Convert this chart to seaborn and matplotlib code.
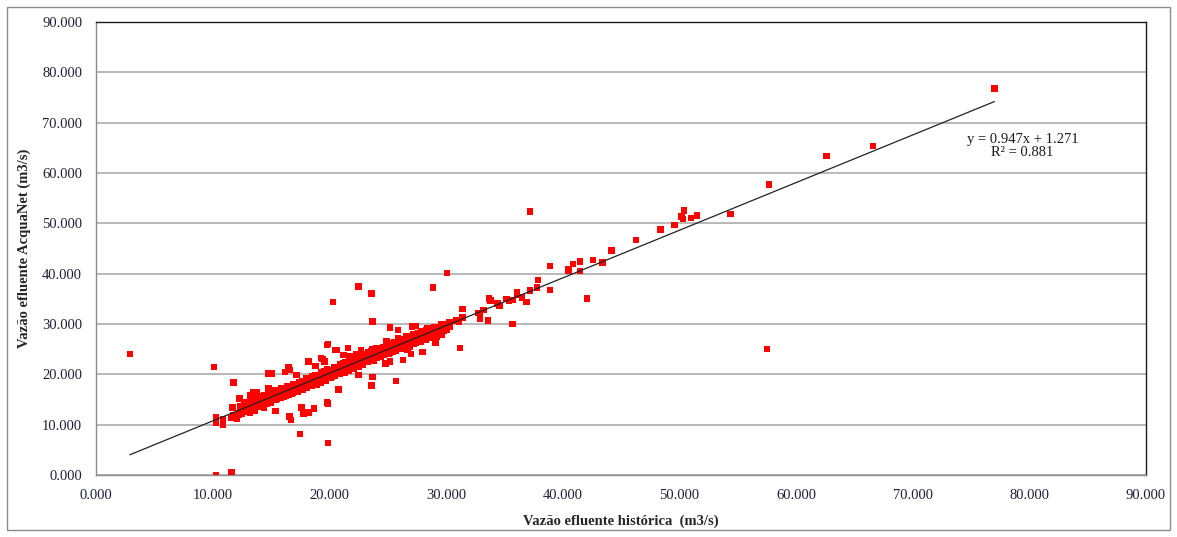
import numpy as np
import pandas as pd
import seaborn as sns
import matplotlib.pyplot as plt
from matplotlib.patches import Rectangle
from matplotlib.ticker import FuncFormatter, MultipleLocator

# historical outflow (x) vs AcquaNet outflow (y), m3/s
hist_outliers = [2.9, 10.1, 10.3, 11.6, 19.9, 17.5, 16.6, 16.7, 11.8, 12.3, 15.4, 17.6, 17.8,
                 18.2, 18.7, 19.8, 19.9, 20.3, 22.5, 23.6, 28.9, 23.7, 30.1, 37.2, 31.2, 35.7,
                 42.1, 57.5, 20.8, 22.5, 23.7, 23.6, 25.7, 13.3, 13.0, 14.8, 15.1, 14.8, 16.2,
                 16.5, 16.6, 17.2, 18.2, 18.8, 19.3, 19.4, 19.6, 19.8, 20.5, 20.6, 21.2, 21.6,
                 21.8, 22.3, 22.7, 23.7, 24.0, 23.8, 24.8, 25.2, 26.3, 27.0, 28.0, 13.5, 13.8,
                 12.9, 13.2, 12.8, 11.7, 14.9, 21.6, 19.9]
acqua_outliers = [24.0, 21.5, 0.0, 0.5, 6.4, 8.1, 11.6, 10.9, 18.4, 15.2, 12.7, 13.4, 12.1,
                  12.4, 13.2, 14.4, 14.2, 34.4, 37.4, 36.1, 37.2, 30.5, 40.1, 52.3, 25.2, 30.0,
                  35.1, 25.0, 17.0, 19.9, 19.5, 17.8, 18.7, 14.8, 12.8, 20.2, 20.2, 17.2, 20.5,
                  21.5, 20.9, 19.9, 22.5, 21.7, 23.2, 23.0, 22.5, 25.8, 24.8, 24.8, 23.8, 25.2,
                  23.6, 24.0, 24.8, 25.0, 25.2, 22.7, 22.1, 22.5, 22.8, 24.0, 24.4, 16.4, 16.4,
                  14.4, 15.9, 12.9, 13.4, 16.9, 25.2, 26.0]

hist_low = [10.3, 10.3, 10.9, 10.9, 11.6, 11.8, 12.0, 12.1]
acqua_low = [11.5, 10.4, 11.1, 10.0, 11.3, 11.9, 11.5, 11.1]

# dense band hugging the trendline
hist_band = [12.2, 12.4, 12.5, 12.7, 12.8, 13.0, 13.1, 13.2, 13.4, 13.5, 13.6, 13.8, 13.9,
             14.0, 14.1, 14.3, 14.4, 14.5, 14.6, 14.8, 14.9, 15.0, 15.1, 15.3, 15.4, 15.5,
             15.6, 15.8, 15.9, 16.0, 16.1, 16.3, 16.4, 16.5, 16.7, 16.8, 16.9, 17.0, 17.2,
             17.3, 17.4, 17.6, 17.7, 17.8, 18.0, 18.1, 18.2, 18.4, 18.5, 18.6, 18.8, 18.9,
             19.0, 19.2, 19.3, 19.4, 19.6, 19.7, 19.8, 20.0, 20.1, 20.2, 20.4, 20.5, 20.6,
             20.8, 20.9, 21.0, 21.2, 21.3, 21.4, 21.6, 21.7, 21.8, 22.0, 22.1, 22.2, 22.4,
             22.5, 22.6, 22.8, 22.9, 23.0, 23.2, 23.3, 23.4, 23.6, 23.8, 24.0, 24.1, 24.2,
             24.4, 24.6, 24.7, 24.9, 25.1, 25.2, 25.4, 25.6, 25.7, 25.9, 26.1, 26.2, 26.4,
             26.6, 26.7, 26.9, 27.1, 27.2, 27.4, 27.6, 27.8, 27.9, 28.1, 28.3, 28.4, 28.6,
             28.8, 29.0, 29.3, 29.6, 29.8, 30.3]
acqua_band = [12.3, 13.0, 12.1, 12.9, 13.4, 12.6, 13.3, 12.4, 13.0, 13.8, 12.8, 13.5, 14.2,
              13.6, 14.6, 14.0, 13.4, 14.9, 14.2, 14.6, 15.3, 14.4, 15.0, 15.6, 14.9, 15.3,
              16.0, 15.4, 15.9, 16.5, 15.6, 16.2, 16.8, 15.9, 16.5, 17.1, 16.3, 16.9, 17.4,
              16.6, 17.2, 17.8, 17.0, 17.5, 18.1, 17.3, 17.9, 18.5, 17.7, 18.2, 18.9, 18.0,
              18.6, 19.3, 18.4, 19.0, 19.6, 18.8, 19.4, 20.1, 19.3, 19.8, 20.5, 19.7, 20.2,
              20.9, 20.1, 20.6, 21.3, 20.4, 21.0, 21.6, 20.8, 21.4, 22.0, 21.2, 21.8, 22.5,
              21.6, 22.2, 22.9, 22.0, 22.6, 23.2, 22.4, 23.0, 23.7, 23.1, 23.9, 24.5, 23.4,
              24.2, 24.8, 23.8, 24.5, 25.1, 24.3, 24.9, 25.5, 24.8, 25.3, 25.9, 25.1, 25.7,
              26.3, 25.6, 26.1, 26.8, 26.0, 26.6, 27.2, 26.5, 27.0, 27.6, 26.9, 27.4, 28.0,
              27.3, 27.9, 28.4, 27.8, 29.1, 29.5]
# wider scatter around the same band
acqua_band_wide = [12.0, 13.6, 12.2, 14.1, 12.6, 13.9, 12.5, 14.6, 13.1, 15.2, 13.3, 14.9, 13.6,
                   15.6, 13.9, 14.2, 15.8, 14.1, 15.4, 14.5, 16.3, 14.8, 15.9, 14.9, 16.8, 15.2,
                   16.5, 15.3, 17.2, 15.6, 16.9, 15.8, 17.6, 16.1, 17.5, 16.2, 18.1, 16.6, 17.9,
                   16.8, 18.5, 17.1, 18.6, 17.4, 19.2, 17.5, 18.9, 17.8, 19.6, 18.1, 19.8, 18.3,
                   19.9, 18.6, 20.4, 18.9, 20.6, 19.1, 21.0, 19.4, 20.9, 19.6, 21.5, 19.9, 21.2,
                   20.1, 21.9, 20.3, 22.1, 20.6, 22.4, 20.9, 22.6, 21.1, 22.9, 21.3, 23.1, 21.6,
                   23.4, 21.9, 23.8, 22.1, 23.9, 22.4, 24.3, 22.7, 24.5, 22.9, 24.9, 23.3, 25.1,
                   23.5, 25.4, 23.8, 25.8, 24.1, 26.0, 24.5, 26.4, 24.7, 26.7, 25.0, 26.9, 25.4,
                   27.3, 25.6, 27.6, 26.0, 27.9, 26.3, 28.2, 26.7, 28.5, 27.0, 28.8, 27.3, 29.1,
                   27.7, 29.4, 28.2, 29.9, 28.7, 30.4]

hist_upper = [20.6, 21.2, 21.6, 22.7, 24.9, 25.1, 25.5, 25.8, 25.9, 26.1, 26.6, 26.7, 26.9,
              27.2, 27.6, 28.1, 28.5, 28.8, 27.8, 28.2, 28.6, 29.2, 29.2, 29.1, 25.2, 25.9,
              27.1, 27.4, 28.4, 28.6, 29.5, 29.6, 30.0, 30.1, 29.5, 30.9, 31.1, 31.4, 31.4,
              32.8, 32.9, 32.9, 33.2, 33.6, 33.7, 33.8, 34.4, 34.6, 35.2, 35.4, 35.7, 36.1,
              36.1, 36.5, 36.9, 37.2, 37.8, 37.9, 38.9, 38.9, 40.5, 40.5, 40.9, 41.5, 41.5,
              42.6, 43.4, 44.2, 46.3, 48.4, 49.6, 50.2, 50.3, 50.4, 51.0, 51.5, 54.4, 57.7,
              62.6, 66.6, 77.0]
acqua_upper = [24.8, 23.8, 25.2, 24.8, 26.5, 26.2, 25.8, 25.5, 27.2, 26.2, 27.5, 24.8, 25.5,
               27.8, 28.2, 28.2, 28.5, 28.7, 27.5, 27.0, 27.5, 27.5, 28.8, 26.2, 29.3, 28.8,
               29.5, 29.6, 29.1, 28.8, 29.3, 28.5, 30.0, 28.9, 28.8, 30.7, 30.4, 31.3, 33.0,
               32.2, 31.6, 31.1, 32.8, 30.7, 35.1, 34.7, 34.1, 33.6, 35.0, 34.6, 34.8, 36.4,
               35.8, 35.3, 34.4, 36.7, 37.3, 38.7, 41.5, 36.8, 40.9, 40.5, 41.9, 42.4, 40.5,
               42.7, 42.2, 44.6, 46.7, 48.8, 49.7, 51.4, 50.9, 52.5, 51.1, 51.6, 51.9, 57.7,
               63.4, 65.4, 76.8]

# trendline shown on the chart
slope = 0.947
intercept = 1.271
r2 = 0.881

x_label = "Vazão efluente histórica  (m3/s)"
y_label = "Vazão efluente AcquaNet (m3/s)"

df = pd.DataFrame({
    'hist': hist_outliers + hist_low + hist_band + hist_band + hist_upper,
    'acqua': acqua_outliers + acqua_low + acqua_band + acqua_band_wide + acqua_upper,
})

sns.set_style("white")
plt.rcParams['font.family'] = ['Liberation Serif', 'DejaVu Serif']

fig = plt.figure(figsize=(11.77, 5.37), dpi=100)
ax = fig.add_axes([0.0816, 0.1155, 0.8921, 0.8435])

sns.scatterplot(data=df, x='hist', y='acqua', marker='s', s=22, color='#ff0000',
                edgecolor='none', linewidth=0, ax=ax, zorder=3)

xs = np.array([df['hist'].min(), df['hist'].max()])
ax.plot(xs, slope * xs + intercept, color='#222222', linewidth=0.9, zorder=4)

ax.set_xlim(0, 90)
ax.set_ylim(0, 90)
ax.xaxis.set_major_locator(MultipleLocator(10))
ax.yaxis.set_major_locator(MultipleLocator(10))
fmt = FuncFormatter(lambda v, p: f"{v:.3f}")
ax.xaxis.set_major_formatter(fmt)
ax.yaxis.set_major_formatter(fmt)

ax.grid(axis='y', color='#a6a6a6', linewidth=1.1)
ax.grid(axis='x', visible=False)
ax.set_axisbelow(True)

for side in ['left', 'bottom']:
    ax.spines[side].set_color('#8c8c8c')
    ax.spines[side].set_linewidth(1.0)
for side in ['top', 'right']:
    ax.spines[side].set_color('#1a1a1a')
    ax.spines[side].set_linewidth(1.0)

ax.tick_params(axis='both', direction='out', length=5, width=1, color='#8c8c8c',
               labelsize=10.5, labelcolor='#1f1f3a', pad=5)

ax.set_xlabel(x_label, fontsize=10.5, fontweight='bold', labelpad=9)
ax.set_ylabel(y_label, fontsize=10.5, fontweight='bold', labelpad=8)

ax.text(79.4, 65.4, f"y = {slope}x + {intercept}\nR² = {r2}", ha='center', va='center',
        fontsize=10.5, color='#1a1a1a', linespacing=1.05)

fig.patches.append(Rectangle((0.006, 0.013), 0.988, 0.974, transform=fig.transFigure,
                             fill=False, edgecolor='#8c8c8c', linewidth=1.0))

fig.savefig('out.png', dpi=100)
